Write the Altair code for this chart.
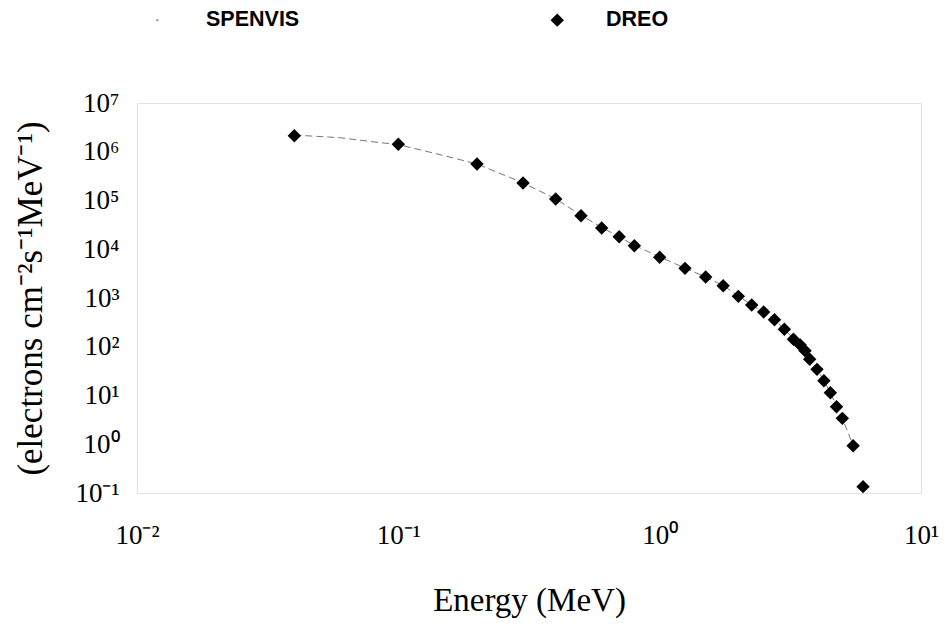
import altair as alt
import pandas as pd

# DREO measured points (energy in MeV, flux in electrons cm^-2 s^-1 MeV^-1)
dreo_energy = [0.04, 0.1, 0.2, 0.3, 0.4, 0.5, 0.6, 0.7, 0.8, 1.0, 1.25, 1.5, 1.75,
               2.0, 2.25, 2.5, 2.75, 3.0, 3.25, 3.45, 3.6, 3.75, 4.0, 4.25, 4.5,
               4.75, 5.0, 5.5, 6.0]
dreo_flux = [2.13e6, 1.42e6, 5.6e5, 2.29e5, 1.07e5, 4.88e4, 2.73e4, 1.81e4, 1.18e4,
             6.83e3, 4.06e3, 2.70e3, 1.79e3, 1.08e3, 7.18e2, 5.16e2, 3.59e2, 2.29e2,
             1.42e2, 1.09e2, 8.3e1, 5.52e1, 3.44e1, 2.01e1, 1.14e1, 5.89, 3.40,
             0.93, 0.135]

# SPENVIS model curve
spenvis_energy = [0.04, 0.06, 0.08, 0.1, 0.15, 0.2, 0.3, 0.4, 0.5, 0.6, 0.7, 0.8,
                  1.0, 1.25, 1.5, 1.75, 2.0, 2.25, 2.5, 2.75, 3.0, 3.25, 3.5, 3.75,
                  4.0, 4.25, 4.5, 4.75, 5.0, 5.5]
spenvis_flux = [2.2e6, 1.94e6, 1.6e6, 1.4e6, 8.3e5, 5.6e5, 2.3e5, 1.08e5, 5.0e4,
                2.8e4, 1.8e4, 1.2e4, 7.0e3, 4.1e3, 2.7e3, 1.8e3, 1.1e3, 7.2e2,
                5.1e2, 3.6e2, 2.3e2, 1.45e2, 1.0e2, 5.6e1, 3.5e1, 2.0e1, 1.15e1,
                6.0, 3.4, 0.95]

series_names = ["SPENVIS", "DREO"]
x_ticks = [0.01, 0.1, 1, 10]
y_ticks = [0.1, 1, 10, 1e2, 1e3, 1e4, 1e5, 1e6, 1e7]

dreo = pd.DataFrame({"energy": dreo_energy, "flux": dreo_flux, "series": "DREO"})
spen = pd.DataFrame({"energy": spenvis_energy, "flux": spenvis_flux})

sup_expr = ("'10' + (round(log(datum.value)/LN10) < 0 ? '\u207b' : '') + "
            "['\u2070','\u00b9','\u00b2','\u00b3','\u2074','\u2075','\u2076','\u2077','\u2078','\u2079']"
            "[abs(round(log(datum.value)/LN10))]")

SERIF = "Liberation Serif"

xscale = alt.Scale(type="log", domain=[0.01, 10], nice=False)
yscale = alt.Scale(type="log", domain=[0.1, 1e7], nice=False)

xaxis = alt.Axis(values=x_ticks, labelExpr=sup_expr, title="Energy (MeV)",
                 grid=False, domain=False, ticks=False, tickSize=0,
                 labelFont=SERIF, labelFontSize=27, labelColor="black",
                 labelPadding=29, labelFlush=False, labelOverlap=False,
                 titleFont=SERIF, titleFontSize=33, titleFontWeight="normal",
                 titleColor="black", titleY=107, titleBaseline="middle")
yaxis = alt.Axis(values=y_ticks, labelExpr=sup_expr,
                 title="(electrons cm\u207b\u00b2s\u207b\u00b9MeV\u207b\u00b9)",
                 grid=False, domain=False, ticks=False, tickSize=0,
                 labelFont=SERIF, labelFontSize=27, labelColor="black",
                 labelPadding=18, labelFlush=False, labelOverlap=False,
                 titleFont=SERIF, titleFontSize=35, titleFontWeight="normal",
                 titleColor="black", titleX=-107, titleY=195, titleAngle=270,
                 titleAlign="center", titleBaseline="middle")

leg = alt.Legend(orient="none", legendX=9.5, legendY=-94, direction="horizontal",
                 title=None, labelFont="Liberation Sans", labelFontSize=21.5,
                 labelFontWeight="bold", labelColor="black", labelOffset=38,
                 columnPadding=247, padding=0, symbolStrokeWidth=0)

line = alt.Chart(spen).mark_line(color="#777777", strokeWidth=1, strokeDash=[7, 4]).encode(
    x=alt.X("energy:Q", scale=xscale, axis=xaxis),
    y=alt.Y("flux:Q", scale=yscale, axis=yaxis),
)

points = alt.Chart(dreo).mark_point(filled=True, opacity=1).encode(
    x=alt.X("energy:Q", scale=xscale, axis=xaxis),
    y=alt.Y("flux:Q", scale=yscale, axis=yaxis),
    color=alt.Color("series:N", scale=alt.Scale(domain=series_names, range=["#999999", "black"]), legend=leg),
    shape=alt.Shape("series:N", scale=alt.Scale(domain=series_names, range=["circle", "diamond"]), legend=leg),
    size=alt.Size("series:N", scale=alt.Scale(domain=series_names, range=[6, 180]), legend=leg),
)

chart = alt.layer(line, points).properties(
    width=784, height=390,
    autosize=alt.AutoSizeParams(type="none"),
    padding={"left": 129, "top": 95, "right": 18, "bottom": 130},
    background="white",
).configure_view(stroke="#e2e2e2", strokeWidth=1)

chart.save("out.html", embed_options={"renderer": "svg", "actions": False})
